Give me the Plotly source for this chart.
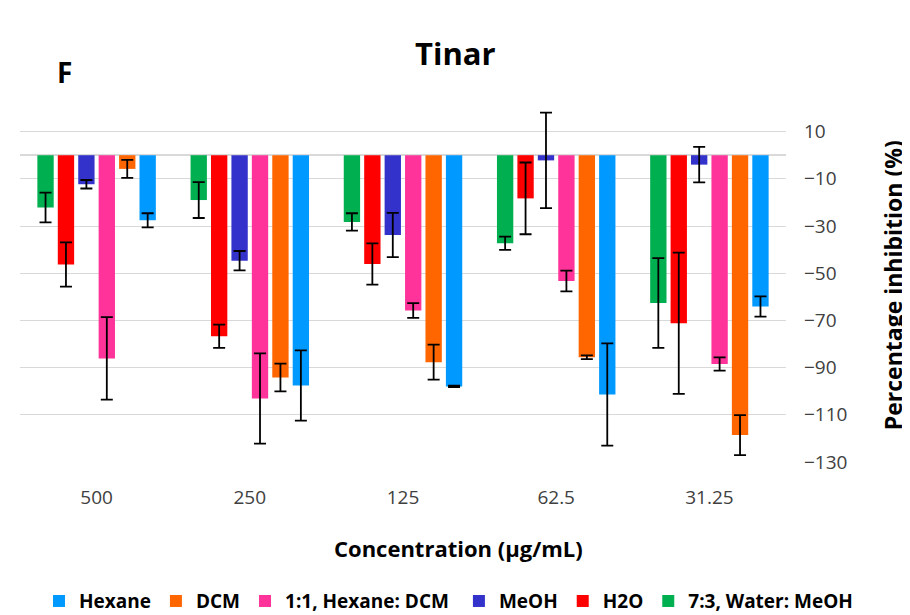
import plotly.graph_objects as go

categories = ["500", "250", "125", "62.5", "31.25"]

water_meoh = [-22.2, -19.0, -28.3, -37.3, -62.6]
water_meoh_err = [6.3, 7.6, 3.7, 2.8, 19.0]
h2o = [-46.3, -76.7, -46.1, -18.3, -71.2]
h2o_err = [9.4, 4.9, 8.7, 15.2, 29.9]
meoh = [-12.3, -44.7, -33.8, -2.2, -4.0]
meoh_err = [1.8, 4.1, 9.4, 20.2, 7.5]
hex_dcm = [-86.1, -103.1, -65.8, -53.3, -88.5]
hex_dcm_err = [17.5, 19.1, 3.1, 4.4, 2.8]
dcm = [-5.8, -94.2, -87.7, -85.6, -118.6]
dcm_err = [3.8, 5.9, 7.4, 0.8, 8.5]
hexane = [-27.6, -97.6, -98.0, -101.4, -64.1]
hexane_err = [3.0, 14.9, 0.3, 21.7, 4.3]

y_ticks = [10, -10, -30, -50, -70, -90, -110, -130]

series = [
    ("7:3, Water: MeOH", water_meoh, water_meoh_err, "#00B050", "legend2"),
    ("H2O", h2o, h2o_err, "#FF0000", "legend2"),
    ("MeOH", meoh, meoh_err, "#3333CC", "legend2"),
    ("1:1, Hexane: DCM", hex_dcm, hex_dcm_err, "#FF3399", "legend"),
    ("DCM", dcm, dcm_err, "#FF6600", "legend"),
    ("Hexane", hexane, hexane_err, "#0099FF", "legend"),
]

FONT = "Open Sans, sans-serif"

fig = go.Figure()
for name, vals, errs, color, leg in series:
    fig.add_trace(go.Bar(
        name=name, x=categories, y=vals, legend=leg,
        marker=dict(color=color, line=dict(width=0)),
        error_y=dict(type="data", array=errs, visible=True,
                     color="black", thickness=1.8, width=6),
    ))

legend_common = dict(orientation="h", xanchor="left", y=-0.393, yanchor="middle",
                     traceorder="reversed", bgcolor="rgba(0,0,0,0)",
                     font=dict(size=19, family=FONT, weight="bold"),
                     itemwidth=30, tracegroupgap=0)

# page has an 8px body margin: margins compensate so the plot area sits at x 20..786, y 108..462
fig.update_layout(
    width=910, height=615,
    margin=dict(l=12, r=132, t=100, b=161, autoexpand=False),
    plot_bgcolor="white", paper_bgcolor="white",
    barmode="group", bargap=0.2, bargroupgap=0.2,
    font=dict(family=FONT, color="#000000", size=19),
    showlegend=True,
    legend=dict(x=0.0248, **legend_common),
    legend2=dict(x=0.573, **legend_common),
    xaxis=dict(showgrid=False, showline=False, ticks="",
               tickfont=dict(size=19, color="#404040"),
               ticklabelstandoff=22),
    yaxis=dict(side="right", range=[-130, 20], tickvals=y_ticks,
               showgrid=True, gridcolor="#D9D9D9", gridwidth=1,
               zeroline=True, zerolinecolor="#D9D9D9", zerolinewidth=1.5,
               showline=False, ticks="",
               tickfont=dict(size=19, color="#404040"),
               ticklabelstandoff=17),
    annotations=[
        dict(text="<b>Tinar</b>", x=0.569, y=1.155, xref="paper", yref="paper",
             showarrow=False, font=dict(size=31), xanchor="center", yanchor="middle"),
        dict(text="<b>F</b>", x=0.0587, y=1.102, xref="paper", yref="paper",
             showarrow=False, font=dict(size=28), xanchor="center", yanchor="middle"),
        dict(text="<b>Concentration (µg/mL)</b>", x=0.572, y=-0.243, xref="paper", yref="paper",
             showarrow=False, font=dict(size=22), xanchor="center", yanchor="middle"),
        dict(text="<b>Percentage inhibition (%)</b>", x=1.14, y=0.5, xref="paper", yref="paper",
             showarrow=False, font=dict(size=23), textangle=-90,
             xanchor="center", yanchor="middle"),
    ],
)

fig.write_html("out.html")
